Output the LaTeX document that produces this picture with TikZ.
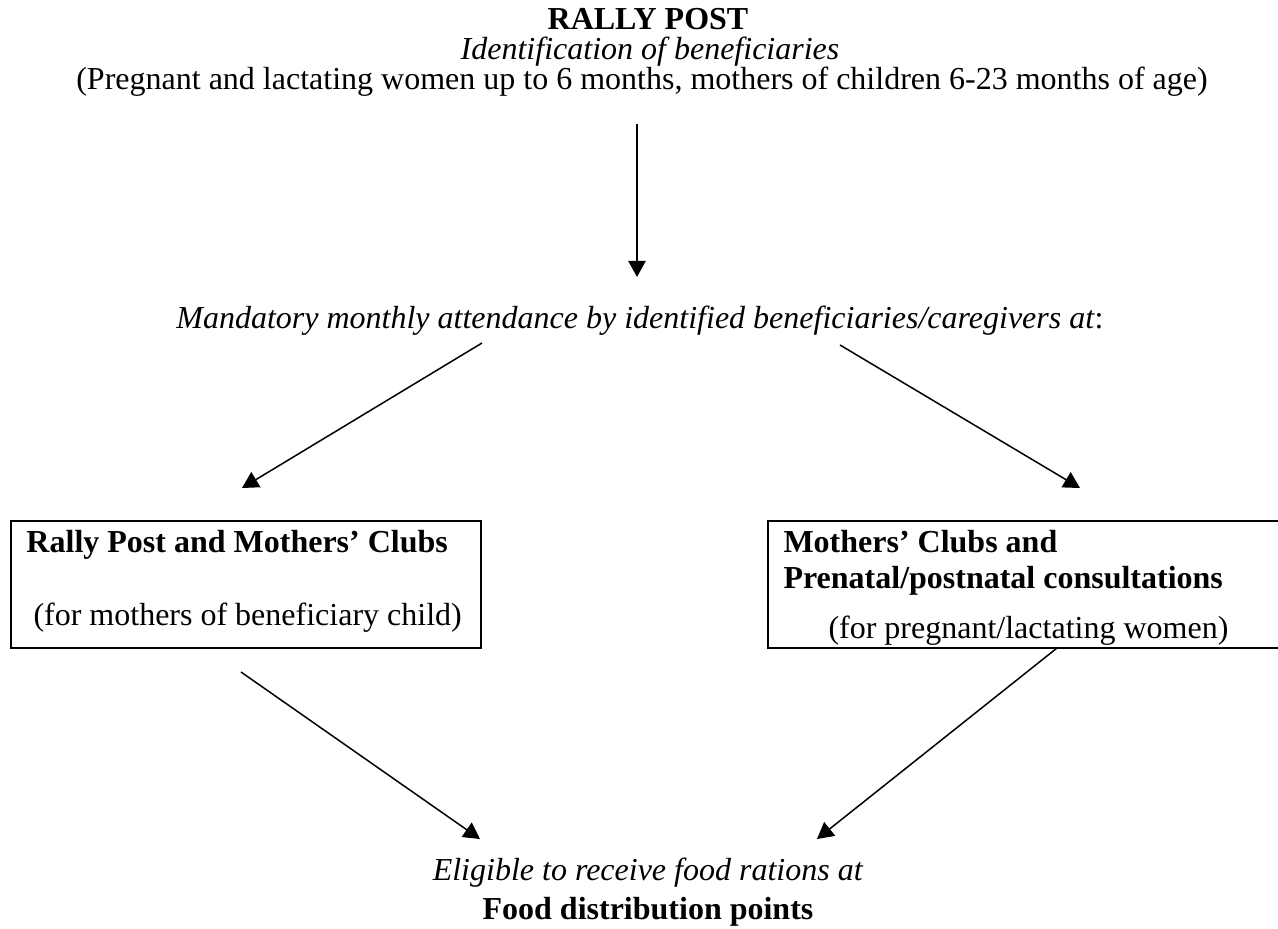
\documentclass[tikz,border=0pt]{standalone}
\usepackage{fontspec}
\setmainfont{Liberation Serif}
\usepackage{tikz}
\usetikzlibrary{arrows.meta}

\tikzset{
  flow/.style={-{Triangle[length=6.5pt,width=7pt]},line width=0.6pt},
  frame/.style={line width=0.8pt},
  txt/.style={anchor=base,inner sep=0pt},
  ltxt/.style={anchor=base west,inner sep=0pt}
}

\begin{document}
\begin{tikzpicture}[x=0.4pt,y=-0.4pt,font=\fontsize{12.8}{14}\selectfont]
\useasboundingbox(0,0)rectangle(1278,928);
% header
\node[txt](title)at(648,29){\textbf{RALLY POST}};
\node[txt](ident)at(650,59){\textit{Identification of beneficiaries}};
\node[txt](who)at(642,89){(Pregnant and lactating women up to 6 months, mothers of children 6-23 months of age)};
\node[txt](attend)at(640,328){\textit{Mandatory monthly attendance by identified beneficiaries/caregivers at}:};
% boxes
\draw[frame](10.5,521)rectangle(481,648);
\draw[frame](768,521)rectangle(1290,648);
\node[ltxt](clubA)at(26,552){\textbf{Rally Post and Mothers’ Clubs}};
\node[ltxt](forA)at(33,625){(for mothers of beneficiary child)};
\node[ltxt](clubB)at(783,552){\textbf{Mothers’ Clubs and}};
\node[ltxt](prenat)at(783,588){\textbf{Prenatal/postnatal consultations}};
\node[ltxt](forB)at(828,638){(for pregnant/lactating women)};
% bottom
\node[txt](elig)at(648,880){\textit{Eligible to receive food rations at}};
\node[txt](food)at(648,919){\textbf{Food distribution points}};
% arrow ends
\coordinate(v1)at(637,124);\coordinate(v2)at(637,277);
\coordinate(l1)at(482,343);\coordinate(l2)at(242,488);
\coordinate(r1)at(840,345);\coordinate(r2)at(1080,488);
\coordinate(bl1)at(241,672);\coordinate(bl2)at(480,839);
\coordinate(br1)at(1057,648);\coordinate(br2)at(817,839);
\draw[flow](v1)--(v2);
\draw[flow](l1)--(l2);
\draw[flow](r1)--(r2);
\draw[flow](bl1)--(bl2);
\draw[flow](br1)--(br2);
\end{tikzpicture}
\end{document}
